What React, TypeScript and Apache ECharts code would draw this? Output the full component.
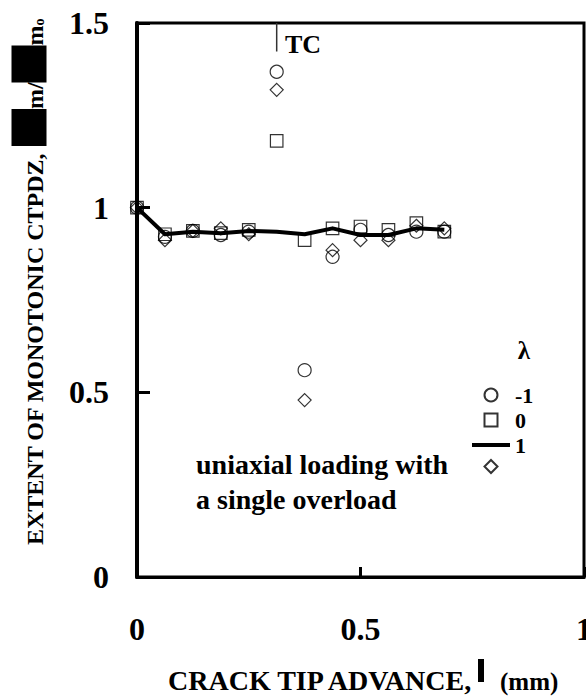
import React, { useEffect, useRef } from "react";
import * as echarts from "echarts";

// crack tip advance (mm)
const xValues = [0, 0.0625, 0.125, 0.1875, 0.25, 0.3125, 0.375, 0.4375, 0.5, 0.5625, 0.625, 0.6875];
// lambda = -1 (circles)
const lambdaMinus1 = [1.0, 0.921, 0.937, 0.926, 0.935, 1.368, 0.56, 0.867, 0.94, 0.926, 0.935, 0.935];
// lambda = 0 (squares)
const lambda0 = [1.0, 0.928, 0.937, 0.931, 0.94, 1.181, 0.912, 0.944, 0.949, 0.94, 0.958, 0.935];
// lambda = 1 (line)
const lambda1 = [1.0, 0.928, 0.935, 0.931, 0.937, 0.935, 0.928, 0.944, 0.926, 0.926, 0.944, 0.94];
// diamonds (unlabelled legend entry)
const diamonds = [1.0, 0.912, 0.937, 0.944, 0.928, 1.319, 0.479, 0.885, 0.912, 0.912, 0.951, 0.944];

const tcX = 0.3125;
const tcLine = [1.5, 1.423];

const xTicks = { min: 0, max: 1, interval: 0.5 };
const yTicks = { min: 0, max: 1.5, interval: 0.5 };

const FONT = "'Liberation Serif', 'Times New Roman', serif";

const pairs = (ys: number[]) => xValues.map((x, i) => [x, ys[i]]);

export default function App() {
  const ref = useRef<HTMLDivElement>(null);
  useEffect(() => {
    if (!ref.current) return;
    const chart = echarts.init(ref.current, undefined, { renderer: "svg" });
    const hollow = { color: "transparent", borderColor: "#000", borderWidth: 1.2 };
    chart.setOption({
      animation: false,
      backgroundColor: "#fff",
      grid: {
        left: 137,
        top: 23,
        width: 447,
        height: 554,
        show: true,
        borderColor: "#000",
        borderWidth: 3,
        containLabel: false,
        outerBoundsMode: "none",
      },
      xAxis: {
        type: "value",
        ...xTicks,
        axisLine: { lineStyle: { color: "#000", width: 3 } },
        axisTick: { inside: true, length: 10, lineStyle: { color: "#000", width: 3 } },
        splitLine: { show: false },
        axisLabel: { color: "#000", fontSize: 32, fontWeight: "bold", fontFamily: FONT, margin: 36 },
      },
      yAxis: {
        type: "value",
        ...yTicks,
        axisLine: { show: true, lineStyle: { color: "#000", width: 4 } },
        axisTick: { show: true, inside: true, length: 13, lineStyle: { color: "#000", width: 3 } },
        splitLine: { show: false },
        axisLabel: { color: "#000", fontSize: 32, fontWeight: "bold", fontFamily: FONT, margin: 28 },
      },
      legend: {
        orient: "vertical",
        left: 467,
        top: 379,
        itemWidth: 38,
        itemHeight: 13,
        itemGap: 3,
        symbolKeepAspect: true,
        data: [
          { name: "-1", icon: "circle" },
          { name: "0", icon: "path://M0,0H10V10H0Z" },
          { name: "1", icon: "path://M0,0H38V4H0Z", itemStyle: { color: "#000", borderWidth: 0 } },
          { name: "d", icon: "path://M5,0L10,5L5,10L0,5Z" },
        ],
        formatter: (n: string) => (n === "d" ? "" : n),
        textStyle: { color: "#000", fontSize: 22, fontWeight: "bold", fontFamily: FONT },
      },
      series: [
        { type: "scatter", name: "-1", symbol: "circle", symbolSize: 13, data: pairs(lambdaMinus1), itemStyle: hollow, z: 3 },
        { type: "scatter", name: "0", symbol: "rect", symbolSize: 12.5, data: pairs(lambda0), itemStyle: hollow, z: 3 },
        { type: "scatter", name: "d", symbol: "diamond", symbolSize: 13, data: pairs(diamonds), itemStyle: hollow, z: 3 },
        {
          type: "line",
          name: "1",
          data: pairs(lambda1),
          symbol: "none",
          smooth: false,
          lineStyle: { color: "#000", width: 4, join: "round" },
          itemStyle: { color: "#000" },
          z: 4,
        },
        {
          type: "line",
          name: "tc",
          data: tcLine.map((y) => [tcX, y]),
          symbol: "none",
          silent: true,
          lineStyle: { color: "#333", width: 1.5 },
          z: 2,
        },
      ],
      graphic: [
        {
          type: "text",
          x: 285,
          y: 44,
          style: { text: "TC", fill: "#000", fontSize: 26, fontWeight: "bold", fontFamily: FONT, verticalAlign: "middle" },
        },
        {
          type: "text",
          x: 524,
          y: 350,
          style: { text: "λ", fill: "#000", fontSize: 25, fontWeight: "bold", fontFamily: FONT, align: "center", verticalAlign: "middle" },
        },
        {
          type: "text",
          x: 196,
          y: 464,
          style: { text: "uniaxial loading with", fill: "#000", fontSize: 28, fontWeight: "bold", fontFamily: FONT, verticalAlign: "middle" },
        },
        {
          type: "text",
          x: 196,
          y: 499,
          style: { text: "a single overload", fill: "#000", fontSize: 28, fontWeight: "bold", fontFamily: FONT, verticalAlign: "middle" },
        },
        {
          type: "text",
          x: 168,
          y: 680,
          style: { text: "CRACK TIP ADVANCE,", fill: "#000", fontSize: 28, fontWeight: "bold", fontFamily: FONT, verticalAlign: "middle" },
        },
        { type: "rect", shape: { x: 478, y: 659, width: 6, height: 23 }, style: { fill: "#000" } },
        {
          type: "text",
          x: 500,
          y: 681,
          style: { text: "(mm)", fill: "#000", fontSize: 25, fontWeight: "bold", fontFamily: FONT, verticalAlign: "middle" },
        },
        {
          type: "text",
          x: 29,
          y: 545,
          rotation: Math.PI / 2,
          style: {
            text: "{t|EXTENT OF MONOTONIC CTPDZ, }{b|}{t|m/}{b|}{t|m}{s|o}",
            align: "left",
            verticalAlign: "middle",
            rich: {
              t: { fill: "#000", fontSize: 24, fontWeight: "bold", fontFamily: FONT, verticalAlign: "bottom", lineHeight: 26 },
              b: { backgroundColor: "#000", width: 37, height: 35 },
              s: { fill: "#000", fontSize: 14, fontWeight: "bold", fontFamily: FONT, verticalAlign: "bottom", lineHeight: 16 },
            },
          },
        },
      ],
    });
    return () => chart.dispose();
  }, []);
  return <div ref={ref} style={{ position: "fixed", left: 0, top: 0, width: 586, height: 696 }} />;
}
